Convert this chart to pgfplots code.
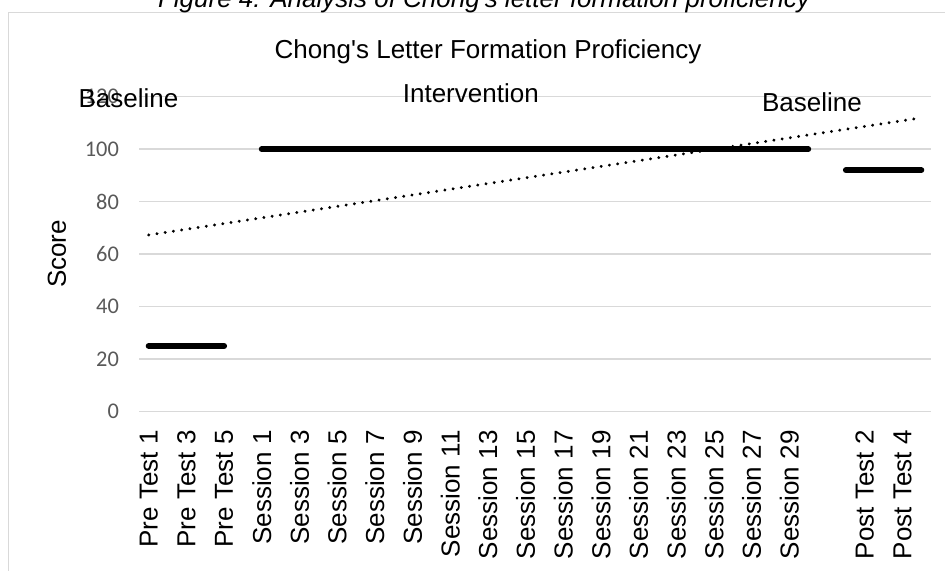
\documentclass[border=0pt]{standalone}
\usepackage{fontspec}
\setmainfont{Liberation Sans}[Ligatures=TeXOff]
\newfontfamily\carlito{Carlito}
\usepackage{pgfplots}
\pgfplotsset{compat=1.18}
\definecolor{gridgray}{HTML}{D9D9D9}
\definecolor{tickgray}{HTML}{595959}
\newcommand{\lbl}{\fontsize{13}{15.6}\selectfont}
\begin{document}
\begin{tikzpicture}
\clip (0,0) rectangle (472.5pt,285pt);
% chart frame
\draw[gridgray, line width=0.75pt] (4.15pt,-10pt) -- (4.15pt,278.65pt) -- (490pt,278.65pt);
% figure caption (cut off at top)
\node[anchor=base, inner sep=0pt, font=\lbl\itshape] at (242pt,281.5pt) {Figure 4: Analysis of Chong's letter formation proficiency};
\begin{axis}[
  at={(69.65pt,79.25pt)}, anchor=south west,
  scale only axis, width=395.7pt, height=157.4pt,
  xmin=-0.5, xmax=41.5, ymin=0, ymax=120,
  xtick={0,2,...,40},
  xticklabels={Pre Test 1,Pre Test 3,Pre Test 5,Session 1,Session 3,Session 5,Session 7,Session 9,Session 11,Session 13,Session 15,Session 17,Session 19,Session 21,Session 23,Session 25,Session 27,Session 29,{},Post Test 2,Post Test 4},
  ytick={0,20,...,120},
  ymajorgrids,
  grid style={draw=gridgray, line width=0.75pt},
  axis line style={draw=none},
  major tick length=0pt,
  tick style={draw=none},
  /pgf/number format/assume math mode=true,
  xticklabel style={yshift=-9.25pt, rotate=90, anchor=east, inner sep=0pt, font=\lbl, text=black},
  yticklabel style={xshift=-10pt, anchor=east, inner sep=0pt, font=\carlito\fontsize{11.2}{13}\selectfont, text=tickgray},
  clip=false,
]
\addplot[black, line width=3pt, line cap=round] coordinates {(0,25)(1,25)(2,25)(3,25)(4,25)};
\addplot[black, line width=3pt, line cap=round] coordinates {(6,100)(7,100)(8,100)(9,100)(10,100)(11,100)(12,100)(13,100)(14,100)(15,100)(16,100)(17,100)(18,100)(19,100)(20,100)(21,100)(22,100)(23,100)(24,100)(25,100)(26,100)(27,100)(28,100)(29,100)(30,100)(31,100)(32,100)(33,100)(34,100)(35,100)};
\addplot[black, line width=3pt, line cap=round] coordinates {(37,92)(38,92)(39,92)(40,92)(41,92)};
\addplot[black, line width=1.6pt, line cap=round, dash pattern=on 0.01pt off 4.15pt] coordinates {(0,67.3)(41,111.95)};
\end{axis}
% titles and phase labels
\node[anchor=base, inner sep=0pt, font=\lbl] at (244pt,256pt) {Chong's Letter Formation Proficiency};
\node[anchor=base, inner sep=0pt, font=\lbl] at (64.25pt,231.4pt) {Baseline};
\node[anchor=base, inner sep=0pt, font=\lbl] at (235.4pt,233.9pt) {Intervention};
\node[anchor=base, inner sep=0pt, font=\lbl] at (406pt,229.3pt) {Baseline};
\node[rotate=90, inner sep=0pt, font=\lbl] at (28.5pt,158pt) {Score};
\end{tikzpicture}
\end{document}
